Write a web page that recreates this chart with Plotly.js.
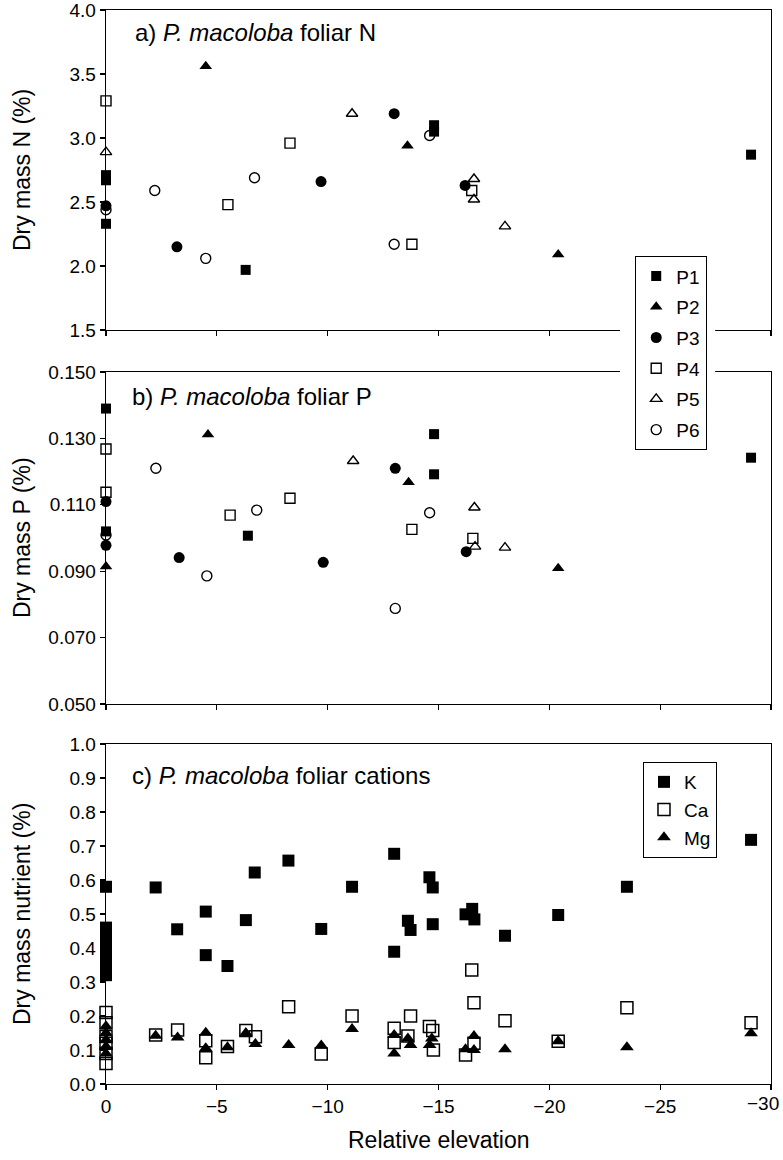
<!DOCTYPE html>
<html>
<head>
<meta charset="utf-8">
<script src="https://cdn.plot.ly/plotly-3.0.1.min.js"></script>
<style>html,body{margin:0;padding:0;background:#fff}#chart{width:783px;height:1160px}</style>
</head>
<body>
<div id="chart"></div>
<script>
// ---------- Panel a: foliar N (%) ----------
const nP1x = [0, 0, 0, -6.3, -14.8, -14.8, -29.1];
const nP1y = [2.71, 2.67, 2.33, 1.97, 3.10, 3.05, 2.87];
const nP2x = [-4.5, -13.6, -20.4];
const nP2y = [3.56, 2.94, 2.09];
const nP3x = [0, -3.2, -9.7, -13.0, -16.2];
const nP3y = [2.47, 2.15, 2.66, 3.19, 2.63];
const nP4x = [0, -5.5, -8.3, -13.8, -16.5];
const nP4y = [3.29, 2.48, 2.96, 2.17, 2.59];
const nP5x = [0, -11.1, -16.6, -16.6, -18.0];
const nP5y = [2.89, 3.19, 2.68, 2.52, 2.31];
const nP6x = [0, -2.2, -4.5, -6.7, -13.0, -14.6];
const nP6y = [2.44, 2.59, 2.06, 2.69, 2.17, 3.02];

// ---------- Panel b: foliar P (%) ----------
const pP1x = [0, 0, -6.4, -14.8, -14.8, -29.1];
const pP1y = [0.139, 0.102, 0.1007, 0.1313, 0.1192, 0.1242];
const pP2x = [0, -4.6, -13.65, -20.4];
const pP2y = [0.0914, 0.1312, 0.1168, 0.0909];
const pP3x = [0, 0, -3.3, -9.8, -13.05, -16.25];
const pP3y = [0.1110, 0.0978, 0.0941, 0.0927, 0.1210, 0.0959];
const pP4x = [0, 0, -5.6, -8.3, -13.8, -16.55];
const pP4y = [0.1268, 0.1138, 0.1069, 0.1120, 0.1026, 0.0999];
const pP5x = [-11.15, -16.62, -16.65, -18.0];
const pP5y = [0.1232, 0.1092, 0.0974, 0.0971];
const pP6x = [0, -2.25, -4.55, -6.8, -13.05, -14.6];
const pP6y = [0.1009, 0.1210, 0.0886, 0.1084, 0.0788, 0.1076];

// ---------- Panel c: foliar cations (%) ----------
const kX = [0, 0, 0, 0, 0, 0, 0, 0, 0, -2.24, -3.21, -4.5, -4.5, -5.48, -6.31, -6.71, -8.23, -9.71, -11.1, -13.0, -13.0, -13.62, -13.74, -14.59, -14.74, -14.74, -16.22, -16.52, -16.62, -18.0, -20.4, -23.5, -29.1];
const kY = [0.58, 0.46, 0.44, 0.42, 0.40, 0.38, 0.36, 0.34, 0.32, 0.578, 0.455, 0.507, 0.379, 0.347, 0.482, 0.622, 0.657, 0.456, 0.580, 0.677, 0.389, 0.480, 0.453, 0.608, 0.578, 0.470, 0.499, 0.515, 0.484, 0.436, 0.497, 0.580, 0.718];
const caX = [0, 0, 0, 0, 0, 0, -2.24, -3.23, -4.5, -4.5, -5.48, -6.31, -6.74, -8.24, -9.71, -11.1, -13.0, -13.0, -13.62, -13.74, -14.59, -14.74, -14.77, -16.22, -16.6, -16.5, -16.6, -18.0, -20.4, -23.5, -29.1];
const caY = [0.21, 0.18, 0.14, 0.12, 0.09, 0.06, 0.144, 0.159, 0.127, 0.077, 0.110, 0.157, 0.139, 0.227, 0.088, 0.200, 0.164, 0.122, 0.141, 0.200, 0.169, 0.157, 0.100, 0.085, 0.120, 0.335, 0.239, 0.186, 0.126, 0.224, 0.180];
const mgX = [0, 0, 0, 0, 0, -2.24, -3.23, -4.5, -4.5, -5.48, -6.31, -6.74, -8.24, -9.71, -11.1, -13.0, -13.0, -13.62, -13.74, -14.6, -14.7, -16.22, -16.6, -16.6, -18.0, -20.4, -23.5, -29.1];
const mgY = [0.17, 0.15, 0.13, 0.11, 0.09, 0.142, 0.137, 0.151, 0.105, 0.108, 0.150, 0.118, 0.115, 0.113, 0.162, 0.144, 0.090, 0.134, 0.115, 0.115, 0.134, 0.102, 0.141, 0.100, 0.102, 0.126, 0.108, 0.149];

const plotLabels = ['P1', 'P2', 'P3', 'P4', 'P5', 'P6'];
const cationLabels = ['K', 'Ca', 'Mg'];
const xTickVals = [0, -5, -10, -15, -20, -25, -30];
// last label (−30) sits at the right page edge; it is drawn as an annotation kept inside the page
const xTickText = ['0', '\u22125', '\u221210', '\u221215', '\u221220', '\u221225', ''];
const xEdgeLabel = '\u221230';

const FONT = 'Liberation Sans, Arial, Helvetica, sans-serif';
const symbols = ['square', 'triangle-up', 'circle', 'square-open', 'triangle-up-open', 'circle-open'];
const sizes = [10, 11, 11, 10, 10, 10];

function mk(i, x, y, xa, ya, show) {
  return {
    type: 'scatter', mode: 'markers', x: x, y: y, xaxis: xa, yaxis: ya,
    name: plotLabels[i], showlegend: show, legendgroup: plotLabels[i], cliponaxis: false,
    marker: { symbol: symbols[i], size: sizes[i], color: 'black', line: { color: 'black', width: i >= 3 ? 1.4 : 0 } }
  };
}

const nX = [nP1x, nP2x, nP3x, nP4x, nP5x, nP6x], nY = [nP1y, nP2y, nP3y, nP4y, nP5y, nP6y];
const pX = [pP1x, pP2x, pP3x, pP4x, pP5x, pP6x], pY = [pP1y, pP2y, pP3y, pP4y, pP5y, pP6y];
const traces = [];
for (let i = 0; i < 6; i++) traces.push(mk(i, nX[i], nY[i], 'x', 'y', true));
for (let i = 0; i < 6; i++) traces.push(mk(i, pX[i], pY[i], 'x2', 'y2', false));

const cX = [kX, caX, mgX], cY = [kY, caY, mgY];
const cSym = ['square', 'square-open', 'triangle-up'];
for (let i = 0; i < 3; i++) {
  traces.push({
    type: 'scatter', mode: 'markers', x: cX[i], y: cY[i], xaxis: 'x3', yaxis: 'y3',
    name: cationLabels[i], legend: 'legend2', cliponaxis: false,
    marker: { symbol: cSym[i], size: 12, color: 'black', line: { color: 'black', width: i === 1 ? 1.5 : 0 } }
  });
}

const axLine = { showline: true, linecolor: 'black', linewidth: 1.3, mirror: true, zeroline: false, showgrid: false, ticks: 'outside', ticklen: 5, tickwidth: 1.2, tickcolor: 'black', ticklabeloverflow: 'allow' };
const xBase = Object.assign({}, axLine, { range: [0, -30], tickmode: 'array', tickvals: xTickVals, ticktext: xTickText, domain: [0, 1] });
const tickFont = { family: FONT, size: 19, color: 'black' };
const TITLE = 23;

// paper geometry: plot from y=10 to y=1084 (1074 px)
const dA = [0.702, 1], dB = [0.3538, 0.6629], dC = [0, 0.3166];

const layout = {
  width: 783, height: 1160,
  margin: { l: 106, r: 12, t: 10, b: 76 },
  paper_bgcolor: 'white', plot_bgcolor: 'white',
  font: { family: FONT, color: 'black' },
  showlegend: true,
  xaxis: Object.assign({}, xBase, { anchor: 'y', showticklabels: false }),
  xaxis2: Object.assign({}, xBase, { anchor: 'y2', showticklabels: false }),
  xaxis3: Object.assign({}, xBase, { anchor: 'y3', showticklabels: true, tickfont: tickFont }),
  yaxis: Object.assign({}, axLine, { domain: dA, range: [1.5, 4.0], dtick: 0.5, tick0: 1.5, tickformat: '.1f', tickfont: tickFont, anchor: 'x' }),
  yaxis2: Object.assign({}, axLine, { domain: dB, range: [0.05, 0.15], dtick: 0.02, tick0: 0.05, tickformat: '.3f', tickfont: tickFont, anchor: 'x2' }),
  yaxis3: Object.assign({}, axLine, { domain: dC, range: [0, 1.0], dtick: 0.1, tick0: 0, tickformat: '.1f', tickfont: tickFont, anchor: 'x3' }),
  legend: {
    x: 0.7955, y: 0.7709, xanchor: 'left', yanchor: 'top',
    bgcolor: 'white', bordercolor: 'black', borderwidth: 1.2,
    font: { family: FONT, size: 19, color: 'black' },
    itemwidth: 30, tracegroupgap: 3, traceorder: 'grouped'
  },
  legend2: {
    x: 0.8075, y: 0.2998, xanchor: 'left', yanchor: 'top',
    bgcolor: 'white', bordercolor: 'black', borderwidth: 1,
    font: { family: FONT, size: 19, color: 'black' },
    itemwidth: 30
  },
  shapes: [{
    type: 'rect', xref: 'paper', yref: 'paper', x0: 0.773, x1: 0.916, y0: 0.6574, y1: 0.7067,
    fillcolor: 'white', line: { width: 0 }, layer: 'above'
  }],
  annotations: [
    { text: 'a) <i>P. macoloba</i> foliar N', xref: 'paper', yref: 'paper', x: 0.0406, y: 0.9786, xanchor: 'left', yanchor: 'middle', showarrow: false, font: { family: FONT, size: 24, color: 'black' } },
    { text: 'b) <i>P. macoloba</i> foliar P', xref: 'paper', yref: 'paper', x: 0.036, y: 0.6397, xanchor: 'left', yanchor: 'middle', showarrow: false, font: { family: FONT, size: 24, color: 'black' } },
    { text: 'c) <i>P. macoloba</i> foliar cations', xref: 'paper', yref: 'paper', x: 0.036, y: 0.2877, xanchor: 'left', yanchor: 'middle', showarrow: false, font: { family: FONT, size: 24, color: 'black' } },
    { text: 'Dry mass N (%)', xref: 'paper', yref: 'paper', x: -0.1263, y: (dA[0] + dA[1]) / 2, xanchor: 'center', yanchor: 'middle', textangle: -90, showarrow: false, font: { family: FONT, size: TITLE, color: 'black' } },
    { text: 'Dry mass P (%)', xref: 'paper', yref: 'paper', x: -0.1263, y: (dB[0] + dB[1]) / 2, xanchor: 'center', yanchor: 'middle', textangle: -90, showarrow: false, font: { family: FONT, size: TITLE, color: 'black' } },
    { text: 'Dry mass nutrient (%)', xref: 'paper', yref: 'paper', x: -0.1263, y: (dC[0] + dC[1]) / 2, xanchor: 'center', yanchor: 'middle', textangle: -90, showarrow: false, font: { family: FONT, size: TITLE, color: 'black' } },
    { text: 'Relative elevation', xref: 'paper', yref: 'paper', x: 0.5, y: -0.0521, xanchor: 'center', yanchor: 'middle', showarrow: false, font: { family: FONT, size: TITLE, color: 'black' } },
    { text: xEdgeLabel, xref: 'paper', yref: 'paper', x: 1.0135, y: -0.0181, xanchor: 'right', yanchor: 'middle', showarrow: false, borderpad: 0, font: { family: FONT, size: 19, color: 'black' } }
  ]
};

Plotly.newPlot('chart', traces, layout, { displayModeBar: false, staticPlot: true });
</script>
</body>
</html>
